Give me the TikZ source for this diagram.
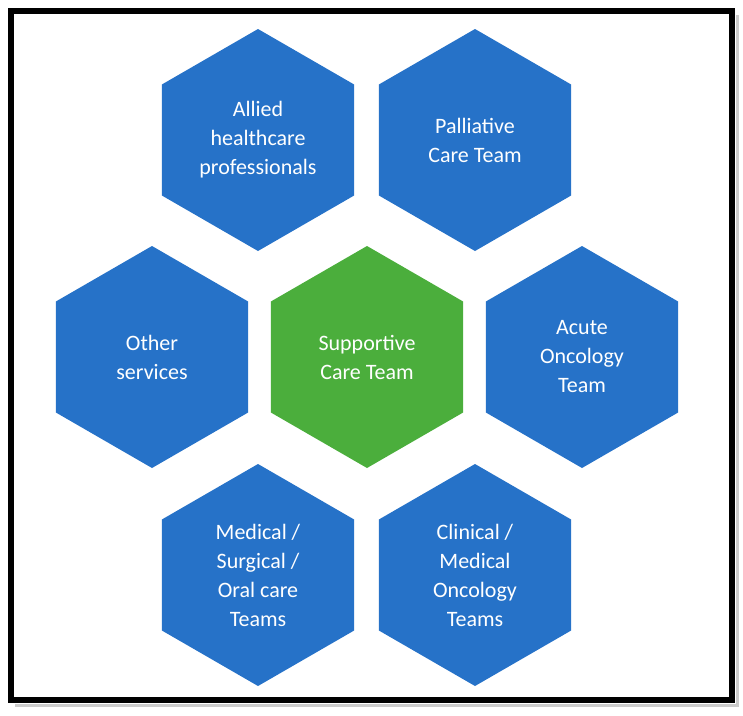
\documentclass[tikz,border=0pt]{standalone}
\usepackage{fontspec}
\setmainfont{Carlito}
\usepackage{tikz}
\usetikzlibrary{shapes.geometric,calc}
\definecolor{hexblue}{HTML}{2672C8}
\definecolor{hexgreen}{HTML}{4BAE3C}
\tikzset{
	honeycomb/.style={
		x=1pt, y=-1pt,
		every node/.style={font=\fontsize{22}{29}\selectfont, text=white, align=center}
		},
	hex/.style={regular polygon, regular polygon sides=6, shape border rotate=30,
		minimum size=222pt, inner sep=0pt, fill=#1},
	hex/.default=hexblue,
	frame/.style={draw=black, line width=6pt}
}
\begin{document}
\begin{tikzpicture}[honeycomb]
      \useasboundingbox (0,0) rectangle (743,715);
      \draw[gray!40, line width=3pt] (15,705) -- (737,705) -- (737,15);
      \draw[frame] (11,11) rectangle (732,700);
      \node[hex=hexgreen] (core) at (367,357) {Supportive\\Care Team};
      \node[hex] (allied) at (258,140) {Allied\\healthcare\\professionals};
      \node[hex] (palliative) at (475,140) {Palliative\\Care Team};
      \node[hex] (other) at (152,357) {Other\\services};
      \node[hex] (acute) at (582,357) {Acute\\Oncology\\Team};
      \node[hex] (medical) at (258,575) {Medical /\\Surgical /\\Oral care\\Teams};
      \node[hex] (clinical) at (475,575) {Clinical /\\Medical\\Oncology\\Teams};
   \end{tikzpicture}
\end{document}
